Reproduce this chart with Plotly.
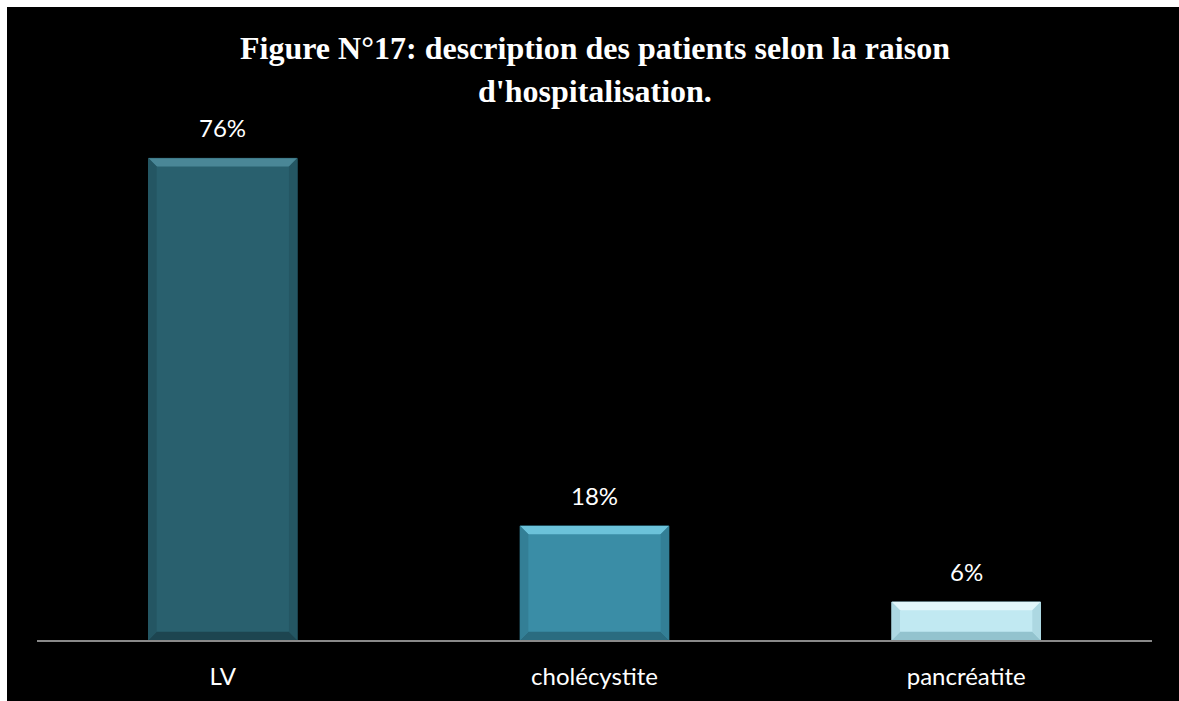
import plotly.graph_objects as go

categories = ["LV", "cholécystite", "pancréatite"]
values = [76, 18, 6]
labels = ["76%", "18%", "6%"]
bar_colors = ["#29606E", "#3A8DA6", "#C1E9F2"]
top_colors = ["#4A8797", "#6BC2DA", "#E2F7FB"]
side_colors = ["#245663", "#337F96", "#ADD8E2"]
bottom_colors = ["#1D4550", "#2A6C80", "#93C3CE"]

W, H = 1179, 701
ML, MR, MT, MB = 37, 27, 133, 61
PW, PH = W - ML - MR, H - MT - MB

BAR_W = 0.4
BEV_X = 0.022   # bevel width in category units
BEV_Y = 1.3     # bevel height in value units

fig = go.Figure()
fig.add_trace(go.Bar(
    x=list(range(len(categories))), y=values,
    marker=dict(color=bar_colors, line=dict(color=side_colors, width=1)),
    width=BAR_W,
    hoverinfo="skip",
))

def poly(pts):
    return "M " + " L ".join(f"{x},{y}" for x, y in pts) + " Z"

for i, v in enumerate(values):
    l, r = i - BAR_W / 2, i + BAR_W / 2
    fig.add_shape(type="path", xref="x", yref="y", line_width=0,
                  fillcolor=top_colors[i], layer="above",
                  path=poly([(l, v), (r, v), (r - BEV_X, v - BEV_Y), (l + BEV_X, v - BEV_Y)]))
    fig.add_shape(type="path", xref="x", yref="y", line_width=0,
                  fillcolor=bottom_colors[i], layer="above",
                  path=poly([(l, 0), (r, 0), (r - BEV_X, BEV_Y), (l + BEV_X, BEV_Y)]))
    fig.add_shape(type="path", xref="x", yref="y", line_width=0,
                  fillcolor=side_colors[i], layer="above",
                  path=poly([(l, 0), (l + BEV_X, BEV_Y), (l + BEV_X, v - BEV_Y), (l, v)]))
    fig.add_shape(type="path", xref="x", yref="y", line_width=0,
                  fillcolor=side_colors[i], layer="above",
                  path=poly([(r, 0), (r - BEV_X, BEV_Y), (r - BEV_X, v - BEV_Y), (r, v)]))
    fig.add_annotation(x=i, y=v, text=labels[i], showarrow=False, yanchor="bottom",
                       yshift=14, font=dict(family="Lato", size=24, color="white"))

# white page border on the left and top (paper coordinates)
fig.add_shape(type="rect", xref="paper", yref="paper", layer="below", line_width=0,
              fillcolor="white", x0=-ML / PW, x1=(7 - ML) / PW, y0=-MB / PH, y1=(PH + MT) / PH)
fig.add_shape(type="rect", xref="paper", yref="paper", layer="below", line_width=0,
              fillcolor="white", x0=-ML / PW, x1=(PW + MR) / PW,
              y0=(PH + MT - 7) / PH, y1=(PH + MT) / PH)

title_lines = ["Figure N°17: description des patients selon la raison", "d'hospitalisation."]
title_y = [1.1677, 1.082]
for t, ty in zip(title_lines, title_y):
    fig.add_annotation(xref="paper", yref="paper", x=0.5004, y=ty, text=f"<b>{t}</b>",
                       showarrow=False, xanchor="center", yanchor="middle",
                       font=dict(family="Liberation Serif", size=32, color="white"))

fig.update_layout(
    width=W, height=H,
    paper_bgcolor="black", plot_bgcolor="black",
    margin=dict(l=ML, r=MR, t=MT, b=MB),
    showlegend=False,
    xaxis=dict(
        tickmode="array", tickvals=list(range(len(categories))), ticktext=categories,
        range=[-0.5, len(categories) - 0.5],
        showline=True, linecolor="#898989", linewidth=2,
        showgrid=False, zeroline=False, ticks="", ticklabelstandoff=14,
        tickfont=dict(family="Lato", size=24, color="white"),
    ),
    yaxis=dict(range=[0, 80], visible=False, showgrid=False, zeroline=False),
)

fig.write_html("out.html", config={"displayModeBar": False},
               post_script="document.body.style.margin='0';document.documentElement.style.overflow='hidden';document.body.style.overflow='hidden';")
